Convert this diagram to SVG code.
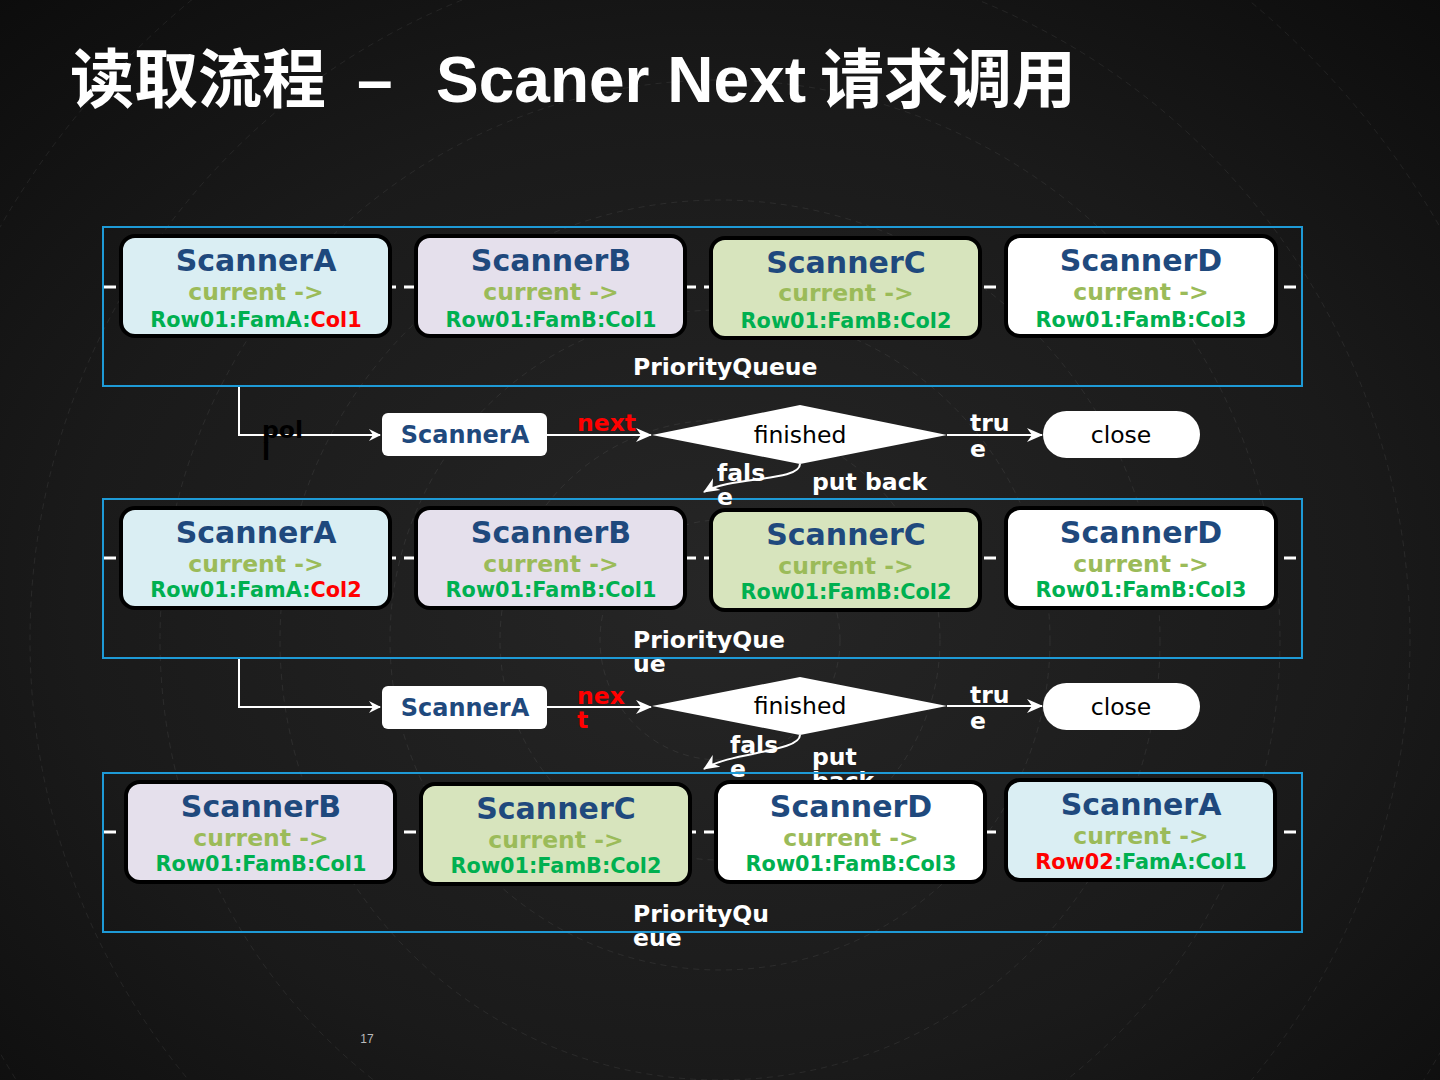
<svg xmlns="http://www.w3.org/2000/svg" width="1440" height="1080" viewBox="0 0 1440 1080">
<defs>
<radialGradient id="bg" cx="50%" cy="55%" r="75%">
<stop offset="0" stop-color="#262626"/>
<stop offset="0.6" stop-color="#1a1a1a"/>
<stop offset="1" stop-color="#0c0c0c"/>
</radialGradient>
<marker id="arr" viewBox="0 0 12 12" refX="11" refY="6" markerWidth="12" markerHeight="12" markerUnits="userSpaceOnUse" orient="auto">
<path d="M0,0 L12,6 L0,12 L4,6 z" fill="#fff"/>
</marker>
<marker id="arr2" viewBox="0 0 16 16" refX="15" refY="8" markerWidth="16" markerHeight="16" markerUnits="userSpaceOnUse" orient="auto">
<path d="M0,1 L16,8 L0,15 L5,8 z" fill="#fff"/>
</marker>
</defs>
<style>
.t{font-family:"Liberation Sans","Noto Sans CJK SC",sans-serif;font-weight:bold;fill:#fff}
.q{fill:none;stroke:#1e9ad6;stroke-width:2}
.dash{stroke:#fff;stroke-width:3;stroke-dasharray:12 8}
.n{stroke:#000;stroke-width:4}
.nm{font-family:"DejaVu Sans",sans-serif;font-weight:bold;font-size:30px;fill:#1f497d;text-anchor:middle}
.cu{font-family:"DejaVu Sans",sans-serif;font-weight:bold;font-size:23.5px;fill:#9bbb59;text-anchor:middle}
.rw{font-family:"DejaVu Sans",sans-serif;font-weight:bold;font-size:20.8px;fill:#00b050;text-anchor:middle}
.red{fill:#ff0000}
.lb{font-family:"DejaVu Sans",sans-serif;font-weight:bold;font-size:23.5px;fill:#fff}
.lr{font-family:"DejaVu Sans",sans-serif;font-weight:bold;font-size:23.5px;fill:#ff0000}
.lk{font-family:"DejaVu Sans",sans-serif;font-weight:bold;font-size:23.5px;fill:#000}
.sa{font-family:"DejaVu Sans",sans-serif;font-weight:bold;font-size:24px;fill:#1f497d;text-anchor:middle}
.pl{font-family:"DejaVu Sans",sans-serif;font-size:23.5px;fill:#000;text-anchor:middle}
.c{fill:none;stroke:#fff;stroke-width:2}
.arc{fill:none;stroke:#fff;stroke-opacity:0.07;stroke-width:1;stroke-dasharray:6 5}
</style>
<rect width="1440" height="1080" fill="url(#bg)"/>
<g id="background-arcs">
<circle class="arc" cx="720" cy="640" r="120"/>
<circle class="arc" cx="720" cy="640" r="220"/>
<circle class="arc" cx="720" cy="640" r="330"/>
<circle class="arc" cx="720" cy="640" r="440"/>
<circle class="arc" cx="720" cy="640" r="560"/>
<circle class="arc" cx="720" cy="640" r="690"/>
<circle class="arc" cx="720" cy="640" r="830"/>
</g>
<text id="title" class="t" font-size="64" y="102"><tspan x="70">读取流程</tspan><tspan x="357">–</tspan><tspan x="436">Scaner Next</tspan><tspan x="820">请求调用</tspan></text>

<g id="queue1">
<rect class="q" x="103" y="227" width="1199" height="159"/>
<line class="dash" x1="104" y1="287" x2="1301" y2="287"/>
<text class="lb" x="633" y="375">PriorityQueue</text>
</g>
<g id="q1-scannerA"><rect class="n" x="121" y="236" width="269" height="100" rx="14" fill="#daeef3"/>
<text class="nm" x="256" y="271">ScannerA</text><text class="cu" x="256" y="300">current -&gt;</text><text class="rw" x="256" y="327">Row01:FamA:<tspan class="red">Col1</tspan></text></g>
<g id="q1-scannerB"><rect class="n" x="416" y="236" width="269" height="100" rx="14" fill="#e5e0ec"/>
<text class="nm" x="551" y="271">ScannerB</text><text class="cu" x="551" y="300">current -&gt;</text><text class="rw" x="551" y="327">Row01:FamB:Col1</text></g>
<g id="q1-scannerC"><rect class="n" x="711" y="238" width="269" height="100" rx="14" fill="#d7e4bd"/>
<text class="nm" x="846" y="273">ScannerC</text><text class="cu" x="846" y="301">current -&gt;</text><text class="rw" x="846" y="328">Row01:FamB:Col2</text></g>
<g id="q1-scannerD"><rect class="n" x="1006" y="236" width="270" height="100" rx="14" fill="#ffffff"/>
<text class="nm" x="1141" y="271">ScannerD</text><text class="cu" x="1141" y="300">current -&gt;</text><text class="rw" x="1141" y="327">Row01:FamB:Col3</text></g>

<g id="queue2">
<rect class="q" x="103" y="499" width="1199" height="159"/>
<line class="dash" x1="104" y1="558" x2="1301" y2="558"/>
<text class="lb" x="633" y="648">PriorityQue</text>
<text class="lb" x="633" y="672">ue</text>
</g>
<g id="q2-scannerA"><rect class="n" x="121" y="508" width="269" height="100" rx="14" fill="#daeef3"/>
<text class="nm" x="256" y="543">ScannerA</text><text class="cu" x="256" y="572">current -&gt;</text><text class="rw" x="256" y="597">Row01:FamA:<tspan class="red">Col2</tspan></text></g>
<g id="q2-scannerB"><rect class="n" x="416" y="508" width="269" height="100" rx="14" fill="#e5e0ec"/>
<text class="nm" x="551" y="543">ScannerB</text><text class="cu" x="551" y="572">current -&gt;</text><text class="rw" x="551" y="597">Row01:FamB:Col1</text></g>
<g id="q2-scannerC"><rect class="n" x="711" y="510" width="269" height="100" rx="14" fill="#d7e4bd"/>
<text class="nm" x="846" y="545">ScannerC</text><text class="cu" x="846" y="574">current -&gt;</text><text class="rw" x="846" y="599">Row01:FamB:Col2</text></g>
<g id="q2-scannerD"><rect class="n" x="1006" y="508" width="270" height="100" rx="14" fill="#ffffff"/>
<text class="nm" x="1141" y="543">ScannerD</text><text class="cu" x="1141" y="572">current -&gt;</text><text class="rw" x="1141" y="597">Row01:FamB:Col3</text></g>

<g id="flow1">
<g id="f1-scannerA"><rect x="382" y="413" width="165" height="43" rx="6" fill="#fff"/><text class="sa" x="465" y="443">ScannerA</text></g>
<g id="f1-finished"><polygon points="652,435 800,405 947,435 800,464" fill="#fff"/><text class="pl" x="800" y="443">finished</text></g>
<g id="f1-close"><rect x="1043" y="411" width="157" height="47" rx="23.5" fill="#fff"/><text class="pl" x="1121" y="443">close</text></g>
</g>
<g id="flow2">
<g id="f2-scannerA"><rect x="382" y="686" width="165" height="43" rx="6" fill="#fff"/><text class="sa" x="465" y="716">ScannerA</text></g>
<g id="f2-finished"><polygon points="652,706 800,677 947,706 800,735" fill="#fff"/><text class="pl" x="800" y="714">finished</text></g>
<g id="f2-close"><rect x="1043" y="683" width="157" height="47" rx="23.5" fill="#fff"/><text class="pl" x="1121" y="715">close</text></g>
</g>

<g id="connectors">
<path class="c" d="M239,387 V435 H380" marker-end="url(#arr)"/>
<path class="c" d="M547,435 H651" marker-end="url(#arr2)"/>
<path class="c" d="M947,435 H1042" marker-end="url(#arr2)"/>
<path class="c" d="M800,464 C800,482 730,476 704,492" marker-end="url(#arr2)"/>
<path class="c" d="M239,659 V707 H380" marker-end="url(#arr)"/>
<path class="c" d="M547,707 H651" marker-end="url(#arr2)"/>
<path class="c" d="M947,706 H1042" marker-end="url(#arr2)"/>
<path class="c" d="M800,735 C800,752 730,752 704,769" marker-end="url(#arr2)"/>
<text class="lk" x="262" y="438">pol</text>
<text class="lk" x="262" y="460">l</text>
<text class="lr" x="577" y="431">next</text>
<text class="lb" x="970" y="431">tru</text>
<text class="lb" x="970" y="457">e</text>
<text class="lb" x="717" y="481">fals</text>
<text class="lb" x="717" y="505">e</text>
<text class="lb" x="812" y="490">put back</text>
<text class="lr" x="577" y="704">nex</text>
<text class="lr" x="577" y="728">t</text>
<text class="lb" x="970" y="703">tru</text>
<text class="lb" x="970" y="729">e</text>
<text class="lb" x="730" y="753">fals</text>
<text class="lb" x="730" y="777">e</text>
<text class="lb" x="812" y="765">put</text>
<text class="lb" x="812" y="789">back</text>
</g>

<g id="queue3">
<rect class="q" x="103" y="773" width="1199" height="159"/>
<line class="dash" x1="104" y1="832" x2="1301" y2="832"/>
<text class="lb" x="633" y="922">PriorityQu</text>
<text class="lb" x="633" y="946">eue</text>
</g>
<g id="q3-scannerB"><rect class="n" x="126" y="782" width="269" height="100" rx="14" fill="#e5e0ec"/>
<text class="nm" x="261" y="817">ScannerB</text><text class="cu" x="261" y="846">current -&gt;</text><text class="rw" x="261" y="871">Row01:FamB:Col1</text></g>
<g id="q3-scannerC"><rect class="n" x="421" y="784" width="269" height="100" rx="14" fill="#d7e4bd"/>
<text class="nm" x="556" y="819">ScannerC</text><text class="cu" x="556" y="848">current -&gt;</text><text class="rw" x="556" y="873">Row01:FamB:Col2</text></g>
<g id="q3-scannerD"><rect class="n" x="716" y="782" width="269" height="100" rx="14" fill="#ffffff"/>
<text class="nm" x="851" y="817">ScannerD</text><text class="cu" x="851" y="846">current -&gt;</text><text class="rw" x="851" y="871">Row01:FamB:Col3</text></g>
<g id="q3-scannerA"><rect class="n" x="1006" y="780" width="269" height="100" rx="14" fill="#daeef3"/>
<text class="nm" x="1141" y="815">ScannerA</text><text class="cu" x="1141" y="844">current -&gt;</text><text class="rw" x="1141" y="869"><tspan class="red">Row02</tspan>:FamA:Col1</text></g>

<text id="page" x="367" y="1043" font-family="Liberation Sans, sans-serif" font-size="12" fill="#bbb" text-anchor="middle">17</text>
</svg>
